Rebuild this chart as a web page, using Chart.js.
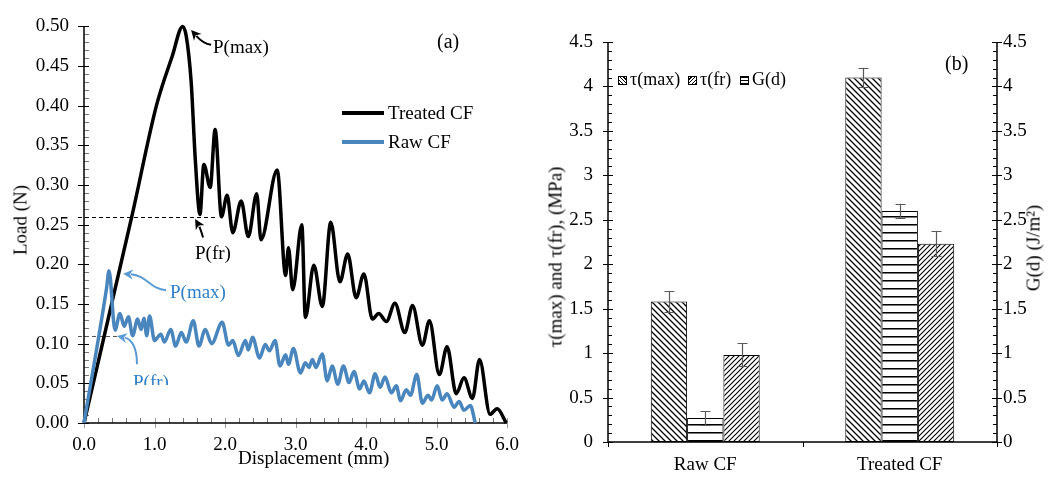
<!DOCTYPE html>
<html><head><meta charset="utf-8">
<script src="https://cdn.jsdelivr.net/npm/chart.js@4.4.1/dist/chart.umd.min.js"></script>
<style>
body{margin:0;background:#fff;}
#wrap{position:relative;width:1060px;height:477px;overflow:hidden;font-family:"Liberation Serif","Times New Roman",serif;background:#fff;}
canvas{position:absolute;top:0;}
.t{position:absolute;white-space:nowrap;line-height:1;font-size:19px;color:#000;}
.r{transform:translate(-50%,-50%) rotate(-90deg);}
.sw{position:absolute;width:9px;height:9px;border:1px solid #000;box-sizing:border-box;}
.lg{font-size:18px;}
</style></head><body><div id="wrap">
<canvas id="ca" width="530" height="477" style="left:0"></canvas>
<canvas id="cb" width="530" height="477" style="left:530px"></canvas>

<div class="t" style="left:437px;top:31px;font-size:20px">(a)</div>
<div class="t" style="left:213px;top:37px">P(max)</div>
<div class="t" style="left:195px;top:243px">P(fr)</div>
<div style="position:absolute;left:342px;top:111px;width:42px;height:3.5px;background:#000"></div>
<div class="t" style="left:388px;top:103px">Treated CF</div>
<div style="position:absolute;left:342px;top:140px;width:42px;height:3.5px;background:#4A86BE"></div>
<div class="t" style="left:388px;top:132px">Raw CF</div>
<div class="t" style="left:170px;top:282px;color:#2F7FC9">P(max)</div>
<div style="position:absolute;left:133px;top:371px;width:40px;height:14px;overflow:hidden"><div class="t" style="left:0;top:1px;color:#2F7FC9">P(fr)</div></div>
<div class="t r" style="left:19.5px;top:220px">Load (N)</div>
<div class="t" style="left:238px;top:448px">Displacement (mm)</div>

<div class="t r" style="left:555px;top:257px">τ(max) and τ(fr), (MPa)</div>
<div class="t r" style="left:1033px;top:248px">G(d) (J/m²)</div>
<div class="t" style="left:945px;top:53px;font-size:20px">(b)</div>
<div class="sw" style="left:618px;top:76px;background:repeating-linear-gradient(45deg,#000 0 1px,#fff 1px 2.5px)"></div>
<div class="t lg" style="left:630px;top:70px">τ(max)</div>
<div class="sw" style="left:688px;top:76px;background:repeating-linear-gradient(-45deg,#000 0 1px,#fff 1px 2.5px)"></div>
<div class="t lg" style="left:700px;top:70px">τ(fr)</div>
<div class="sw" style="left:740px;top:76px;background:repeating-linear-gradient(0deg,#000 0 1px,#fff 1px 3px)"></div>
<div class="t lg" style="left:752px;top:70px">G(d)</div>
</div>
<script>
// ---------- data: panel (a) load-displacement ----------
const treatedX = [0,0.68,1.03,1.25,1.40,1.45,1.52,1.58,1.645,1.70,1.79,1.86,1.95,2.03,2.11,2.23,2.33,2.45,2.51,2.74,2.86,2.90,2.96,3.09,3.14,3.26,3.38,3.50,3.63,3.74,3.86,3.97,4.09,4.18,4.29,4.41,4.55,4.66,4.80,4.90,5.04,5.15,5.28,5.39,5.51,5.61,5.76,5.86,5.99];
const treatedY = [0,0.261,0.401,0.462,0.50,0.488,0.43,0.33,0.263,0.326,0.297,0.37,0.26,0.287,0.240,0.280,0.235,0.289,0.231,0.319,0.186,0.221,0.168,0.25,0.133,0.199,0.147,0.253,0.178,0.213,0.158,0.188,0.131,0.138,0.128,0.151,0.114,0.148,0.098,0.129,0.061,0.096,0.037,0.057,0.031,0.080,0.011,0.018,0.0];
const rawX = [0,0.32,0.355,0.44,0.51,0.57,0.63,0.69,0.76,0.81,0.85,0.89,0.93,1.00,1.09,1.14,1.23,1.30,1.38,1.45,1.55,1.63,1.72,1.81,1.96,2.05,2.11,2.19,2.29,2.33,2.39,2.49,2.57,2.63,2.71,2.78,2.86,2.90,2.97,3.07,3.14,3.19,3.24,3.29,3.38,3.45,3.52,3.60,3.68,3.76,3.83,3.91,3.97,4.05,4.13,4.20,4.27,4.36,4.43,4.49,4.57,4.63,4.72,4.80,4.88,4.93,5.01,5.08,5.15,5.25,5.32,5.39,5.48,5.55];
const rawY = [0,0.17,0.192,0.117,0.138,0.122,0.134,0.110,0.131,0.118,0.132,0.110,0.135,0.104,0.112,0.102,0.118,0.097,0.114,0.102,0.129,0.097,0.118,0.100,0.127,0.098,0.104,0.085,0.104,0.092,0.108,0.082,0.099,0.091,0.104,0.072,0.086,0.074,0.094,0.063,0.076,0.070,0.080,0.070,0.087,0.053,0.072,0.049,0.072,0.051,0.065,0.043,0.053,0.038,0.062,0.045,0.058,0.038,0.047,0.028,0.042,0.035,0.061,0.025,0.035,0.029,0.047,0.029,0.037,0.020,0.027,0.016,0.022,0.0];
const pFrTreated = 0.26, pFrTreatedEnd = 1.87;
const pFrRaw = 0.11, pFrRawEnd = 0.47;
// ---------- data: panel (b) ----------
const categories = ['Raw CF','Treated CF'];
const tauMax = [1.58, 4.10], tauMaxErr = [0.12, 0.11];
const gd = [0.27, 2.60], gdErr = [0.08, 0.08];
const tauFr = [0.98, 2.23], tauFrErr = [0.13, 0.14];

const FAM = '"Liberation Serif","Times New Roman",serif';
Chart.defaults.font.family = FAM;
Chart.defaults.font.size = 19;
Chart.defaults.color = '#000';
const RAW_COLOR = '#4A86BE';
const BLUE_ANN = '#5B9BD5';
const zip = (xs, ys) => xs.map((x, i) => ({x, y: ys[i]}));

// annotation arrows in data units: tail, cp1, cp2, tip
const arrows = [
  {c:'#000', p:[[1.803,0.477],[1.689,0.4783],[1.618,0.4856],[1.519,0.4955]]},
  {c:'#000', p:[[1.689,0.2338],[1.661,0.2424],[1.632,0.2485],[1.576,0.2571]]},
  {c:BLUE_ANN, p:[[1.164,0.1674],[0.937,0.1687],[0.894,0.1859],[0.554,0.1883]]},
  {c:BLUE_ANN, p:[[0.752,0.0741],[0.752,0.0962],[0.667,0.106],[0.468,0.1097]]}
];

function drawArrow(ctx, pts, color){
  const [a,b,c,d] = pts;
  const ang = Math.atan2(d[1]-c[1], d[0]-c[0]);
  const L = 10, W = 5;
  const ex = d[0]-Math.cos(ang)*L*0.8, ey = d[1]-Math.sin(ang)*L*0.8;
  ctx.save();
  ctx.strokeStyle = color; ctx.fillStyle = color; ctx.lineWidth = 2; ctx.setLineDash([]);
  ctx.beginPath(); ctx.moveTo(a[0],a[1]); ctx.bezierCurveTo(b[0],b[1],c[0],c[1],ex,ey); ctx.stroke();
  ctx.beginPath();
  ctx.moveTo(d[0],d[1]);
  ctx.lineTo(d[0]-Math.cos(ang)*L - Math.sin(ang)*W, d[1]-Math.sin(ang)*L + Math.cos(ang)*W);
  ctx.lineTo(d[0]-Math.cos(ang)*L*0.7, d[1]-Math.sin(ang)*L*0.7);
  ctx.lineTo(d[0]-Math.cos(ang)*L + Math.sin(ang)*W, d[1]-Math.sin(ang)*L - Math.cos(ang)*W);
  ctx.closePath(); ctx.fill();
  ctx.restore();
}

const axesA = {
  id: 'axesA',
  beforeDatasetsDraw(chart){
    const {ctx, chartArea: a, scales: {x, y}} = chart;
    ctx.save();
    ctx.lineWidth = 1;
    ctx.strokeStyle = '#777';
    for (let i = 0; i <= 50; i++) {
      const py = Math.round(y.getPixelForValue(i * 0.01)) + 0.5;
      ctx.beginPath(); ctx.moveTo(a.left, py); ctx.lineTo(a.left + 5, py); ctx.stroke();
    }
    for (let i = 0; i <= 30; i++) {
      const px = Math.round(x.getPixelForValue(i * 0.2)) + 0.5;
      ctx.beginPath(); ctx.moveTo(px, a.bottom); ctx.lineTo(px, a.bottom - 5); ctx.stroke();
    }
    ctx.strokeStyle = '#999';
    for (let v = 0; v <= 6; v++) {
      const px = Math.round(x.getPixelForValue(v)) + 0.5;
      ctx.beginPath(); ctx.moveTo(px, a.bottom - 5); ctx.lineTo(px, a.bottom + 5); ctx.stroke();
    }
    ctx.strokeStyle = '#000';
    for (let i = 0; i <= 10; i++) {
      const py = Math.round(y.getPixelForValue(i * 0.05)) + 0.5;
      ctx.beginPath(); ctx.moveTo(a.left - 6, py); ctx.lineTo(a.left + 5, py); ctx.stroke();
    }
    ctx.lineWidth = 1.5;
    ctx.beginPath(); ctx.moveTo(a.left, a.top); ctx.lineTo(a.left, a.bottom); ctx.lineTo(a.right, a.bottom); ctx.stroke();
    // dashed P(fr) guide lines
    ctx.lineWidth = 1; ctx.setLineDash([4, 3]);
    ctx.strokeStyle = '#000';
    let py = Math.round(y.getPixelForValue(pFrTreated)) + 0.5;
    ctx.beginPath(); ctx.moveTo(a.left - 6, py); ctx.lineTo(x.getPixelForValue(pFrTreatedEnd), py); ctx.stroke();
    ctx.strokeStyle = '#555';
    py = Math.round(y.getPixelForValue(pFrRaw)) + 0.5;
    ctx.beginPath(); ctx.moveTo(a.left - 6, py); ctx.lineTo(x.getPixelForValue(pFrRawEnd), py); ctx.stroke();
    ctx.restore();
  },
  afterDatasetsDraw(chart){
    const {ctx, scales: {x, y}} = chart;
    arrows.forEach(ar => drawArrow(ctx, ar.p.map(p => [x.getPixelForValue(p[0]), y.getPixelForValue(p[1])]), ar.c));
  }
};

new Chart(document.getElementById('ca'), {
  type: 'line',
  data: {datasets: [
    {label: 'Raw CF', data: zip(rawX, rawY), borderColor: RAW_COLOR, borderWidth: 3.5, pointRadius: 0, cubicInterpolationMode: 'monotone', clip: false},
    {label: 'Treated CF', data: zip(treatedX, treatedY), borderColor: '#000', borderWidth: 3.5, pointRadius: 0, cubicInterpolationMode: 'monotone', clip: false}
  ]},
  options: {
    responsive: false, animation: false, devicePixelRatio: 1, events: [],
    layout: {padding: {left: 0, right: 23, top: 16, bottom: 0}},
    plugins: {legend: {display: false}, tooltip: {enabled: false}},
    scales: {
      x: {type: 'linear', min: 0, max: 6,
          ticks: {stepSize: 1, autoSkip: false, maxRotation: 0, padding: 11, callback: v => Number(v).toFixed(1)},
          grid: {display: false, drawTicks: false}, border: {display: false},
          afterFit(s){ s.height = 54; }},
      y: {min: 0, max: 0.5,
          ticks: {stepSize: 0.05, autoSkip: false, padding: 15, callback: v => Number(v).toFixed(2)},
          grid: {display: false, drawTicks: false}, border: {display: false},
          afterFit(s){ s.width = 84; }}
    }
  },
  plugins: [axesA]
});

// ---------- panel (b) ----------
const cb = document.getElementById('cb');
const cbx = cb.getContext('2d');
function makePattern(kind){
  const s = kind === 'h' ? 8 : (kind === 'b' ? 6 : 5);
  const c = document.createElement('canvas'); c.width = s; c.height = s;
  const g = c.getContext('2d');
  g.fillStyle = '#fff'; g.fillRect(0, 0, s, s);
  g.strokeStyle = '#000';
  if (kind === 'h') {
    g.fillStyle = '#000'; g.fillRect(0, 0, s, 1);
    g.fillStyle = '#777'; g.fillRect(0, 1, s, 1);
  } else {
    g.lineWidth = kind === 'b' ? 1.3 : 1.1;
    g.beginPath();
    for (const k of [-s, 0, s]) {
      if (kind === 'b') { g.moveTo(k - 1, -1); g.lineTo(k + s + 1, s + 1); }
      else { g.moveTo(k - 1, s + 1); g.lineTo(k + s + 1, -1); }
    }
    g.stroke();
  }
  return cbx.createPattern(c, 'repeat');
}
const patBack = makePattern('b'), patFwd = makePattern('f'), patH = makePattern('h');
const fmtB = v => String(Math.round(v * 10) / 10);

const axesB = {
  id: 'axesB',
  beforeDatasetsDraw(chart){
    const {ctx, chartArea: a, scales: {x, y, y2}} = chart;
    ctx.save();
    ctx.strokeStyle = '#000'; ctx.lineWidth = 1;
    for (let i = 0; i <= 45; i++) {
      const py = Math.round(y.getPixelForValue(i * 0.1)) + 0.5;
      const major = i % 5 === 0;
      ctx.beginPath(); ctx.moveTo(a.left - (major ? 5 : 0), py); ctx.lineTo(a.left + (major ? 5 : 4), py); ctx.stroke();
      const py2 = Math.round(y2.getPixelForValue(i * 0.1)) + 0.5;
      ctx.beginPath(); ctx.moveTo(a.right - (major ? 5 : 4), py2); ctx.lineTo(a.right + (major ? 5 : 0), py2); ctx.stroke();
    }
    for (const v of [-0.5, 0.5, 1.5]) {
      const px = Math.round(x.getPixelForValue(v)) + 0.5;
      ctx.beginPath(); ctx.moveTo(px, a.bottom); ctx.lineTo(px, a.bottom + 5); ctx.stroke();
    }
    ctx.lineWidth = 1.5;
    ctx.beginPath(); ctx.moveTo(a.left, a.top); ctx.lineTo(a.left, a.bottom); ctx.lineTo(a.right, a.bottom); ctx.lineTo(a.right, a.top); ctx.stroke();
    ctx.restore();
  },
  afterDatasetsDraw(chart){
    const {ctx} = chart;
    ctx.save();
    ctx.strokeStyle = '#595959'; ctx.lineWidth = 1.2;
    chart.data.datasets.forEach((ds, i) => {
      const meta = chart.getDatasetMeta(i);
      const sc = chart.scales[meta.yAxisID];
      meta.data.forEach((el, j) => {
        const v = ds.data[j], e = ds.errs[j];
        const px = Math.round(el.x) + 0.5;
        const t = sc.getPixelForValue(v + e), b = sc.getPixelForValue(v - e);
        ctx.beginPath();
        ctx.moveTo(px, t); ctx.lineTo(px, b);
        ctx.moveTo(px - 5, Math.round(t) + 0.5); ctx.lineTo(px + 5, Math.round(t) + 0.5);
        ctx.moveTo(px - 5, Math.round(b) + 0.5); ctx.lineTo(px + 5, Math.round(b) + 0.5);
        ctx.stroke();
      });
    });
    ctx.restore();
  }
};

new Chart(cb, {
  type: 'bar',
  data: {labels: categories, datasets: [
    {label: 'τ(max)', data: tauMax, errs: tauMaxErr, backgroundColor: patBack, borderColor: '#000', borderWidth: 1, yAxisID: 'y'},
    {label: 'G(d)', data: gd, errs: gdErr, backgroundColor: patH, borderColor: '#000', borderWidth: 1, yAxisID: 'y2'},
    {label: 'τ(fr)', data: tauFr, errs: tauFrErr, backgroundColor: patFwd, borderColor: '#000', borderWidth: 1, yAxisID: 'y'}
  ]},
  options: {
    responsive: false, animation: false, devicePixelRatio: 1, events: [],
    datasets: {bar: {categoryPercentage: 0.56, barPercentage: 1, borderSkipped: false}},
    layout: {padding: {left: 0, right: 0, top: 42, bottom: 0}},
    plugins: {legend: {display: false}, tooltip: {enabled: false}},
    scales: {
      x: {ticks: {padding: 12, maxRotation: 0}, grid: {display: false, drawTicks: false}, border: {display: false},
          afterFit(s){ s.height = 35; }},
      y: {position: 'left', min: 0, max: 4.5, ticks: {stepSize: 0.5, padding: 15, autoSkip: false, callback: fmtB},
          grid: {display: false, drawTicks: false}, border: {display: false}, afterFit(s){ s.width = 78; }},
      y2: {position: 'right', min: 0, max: 4.5, ticks: {stepSize: 0.5, padding: 6, autoSkip: false, callback: fmtB},
          grid: {display: false, drawTicks: false}, border: {display: false}, afterFit(s){ s.width = 63; }}
    }
  },
  plugins: [axesB]
});
</script>
</body></html>
